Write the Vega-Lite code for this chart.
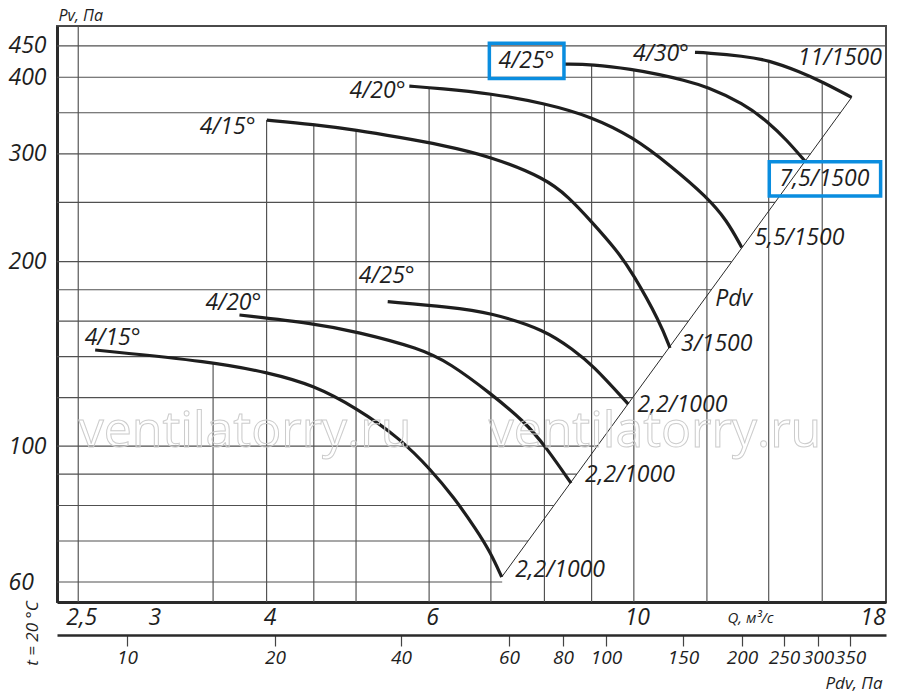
{
  "$schema": "https://vega.github.io/schema/vega-lite/v6.json",
  "description": "Fan performance curves, Pv vs Q, log-log",
  "width": 829,
  "height": 576,
  "autosize": {"type": "none"},
  "padding": {"left": 57, "top": 26, "right": 14, "bottom": 95},
  "background": "white",
  "config": {
    "font": "Open Sans",
    "view": {"stroke": "#4a4a4a", "strokeWidth": 2},
    "axis": {
      "grid": false,
      "labelFont": "Open Sans",
      "labelFontStyle": "italic",
      "labelFontSize": 23,
      "labelColor": "#1e1e1e",
      "titleFont": "Open Sans",
      "titleFontStyle": "italic",
      "titleFontWeight": "normal",
      "titleColor": "#1e1e1e",
      "labelFlush": false,
      "labelOverlap": false
    }
  },
  "datasets": {
    "hgrid": [
      {"pv": 60, "q0": 2.371, "qend": 7.2},
      {"pv": 70, "q0": 2.371, "qend": 7.68},
      {"pv": 80, "q0": 2.371, "qend": 8.19},
      {"pv": 90, "q0": 2.371, "qend": 8.67},
      {"pv": 100, "q0": 2.371, "qend": 9.13},
      {"pv": 120, "q0": 2.371, "qend": 9.97},
      {"pv": 140, "q0": 2.371, "qend": 10.74},
      {"pv": 160, "q0": 2.371, "qend": 11.46},
      {"pv": 180, "q0": 2.371, "qend": 12.13},
      {"pv": 200, "q0": 2.371, "qend": 12.76},
      {"pv": 250, "q0": 2.371, "qend": 14.22},
      {"pv": 300, "q0": 2.371, "qend": 15.54},
      {"pv": 350, "q0": 2.371, "qend": 16.75},
      {"pv": 400, "q0": 2.371, "qend": 18.76},
      {"pv": 450, "q0": 2.371, "qend": 18.76}
    ],
    "vgrid": [
      {"q": 2.5, "top": 485, "bottom": 55.66},
      {"q": 3.5, "top": 137.2, "bottom": 55.66},
      {"q": 4, "top": 340.5, "bottom": 55.66},
      {"q": 4.5, "top": 334.9, "bottom": 55.66},
      {"q": 5, "top": 328, "bottom": 55.66},
      {"q": 6, "top": 384.5, "bottom": 55.66},
      {"q": 7, "top": 376.4, "bottom": 55.66},
      {"q": 8, "top": 362.9, "bottom": 55.66},
      {"q": 9, "top": 419.8, "bottom": 55.66},
      {"q": 10, "top": 411.8, "bottom": 55.66},
      {"q": 12, "top": 438.5, "bottom": 55.66},
      {"q": 14, "top": 426.7, "bottom": 55.66},
      {"q": 16, "top": 393.2, "bottom": 55.66}
    ],
    "diag": [
      {"q": 7.192, "pv": 61.14},
      {"q": 17.219, "pv": 370.9}
    ],
    "curves": [
      {"c": "A", "q": 4.002, "pv": 340.5},
      {"c": "A", "q": 4.492, "pv": 335.0},
      {"c": "A", "q": 5.009, "pv": 327.9},
      {"c": "A", "q": 5.58, "pv": 319.0},
      {"c": "A", "q": 6.166, "pv": 310.5},
      {"c": "A", "q": 6.985, "pv": 297.4},
      {"c": "A", "q": 8.025, "pv": 273.5},
      {"c": "A", "q": 8.49, "pv": 255.3},
      {"c": "A", "q": 9.002, "pv": 232.4},
      {"c": "A", "q": 9.58, "pv": 208.9},
      {"c": "A", "q": 9.971, "pv": 191.6},
      {"c": "A", "q": 10.674, "pv": 159.4},
      {"c": "A", "q": 10.943, "pv": 144.6},
      {"c": "B", "q": 5.711, "pv": 386.9},
      {"c": "B", "q": 6.166, "pv": 383.6},
      {"c": "B", "q": 6.985, "pv": 376.5},
      {"c": "B", "q": 8.025, "pv": 362.6},
      {"c": "B", "q": 9.002, "pv": 344.8},
      {"c": "B", "q": 9.971, "pv": 319.8},
      {"c": "B", "q": 10.943, "pv": 287.5},
      {"c": "B", "q": 11.993, "pv": 255.3},
      {"c": "B", "q": 12.607, "pv": 233.9},
      {"c": "B", "q": 13.09, "pv": 211},
      {"c": "C", "q": 8.421, "pv": 420.3},
      {"c": "C", "q": 9.002, "pv": 419.8},
      {"c": "C", "q": 9.971, "pv": 412.0},
      {"c": "C", "q": 10.674, "pv": 404.0},
      {"c": "C", "q": 11.313, "pv": 395.8},
      {"c": "C", "q": 11.993, "pv": 386.3},
      {"c": "C", "q": 13.14, "pv": 362.6},
      {"c": "C", "q": 13.985, "pv": 338.0},
      {"c": "C", "q": 14.641, "pv": 316.0},
      {"c": "C", "q": 15.325, "pv": 292},
      {"c": "D", "q": 11.648, "pv": 439.2},
      {"c": "D", "q": 11.993, "pv": 438.5},
      {"c": "D", "q": 13.14, "pv": 433.1},
      {"c": "D", "q": 13.985, "pv": 426.7},
      {"c": "D", "q": 15.135, "pv": 408.3},
      {"c": "D", "q": 16.001, "pv": 393.2},
      {"c": "D", "q": 17.219, "pv": 370.9},
      {"c": "E", "q": 2.608, "pv": 143.5},
      {"c": "E", "q": 3.494, "pv": 137.3},
      {"c": "E", "q": 4.018, "pv": 131.8},
      {"c": "E", "q": 4.495, "pv": 125.8},
      {"c": "E", "q": 5.009, "pv": 115.3},
      {"c": "E", "q": 5.58, "pv": 102.96},
      {"c": "E", "q": 6.03, "pv": 91.4},
      {"c": "E", "q": 6.374, "pv": 82.67},
      {"c": "E", "q": 6.756, "pv": 72.95},
      {"c": "E", "q": 6.985, "pv": 67.23},
      {"c": "E", "q": 7.192, "pv": 61.14},
      {"c": "F", "q": 3.738, "pv": 163.7},
      {"c": "F", "q": 4.495, "pv": 158.6},
      {"c": "F", "q": 5.009, "pv": 153.7},
      {"c": "F", "q": 5.866, "pv": 144.4},
      {"c": "F", "q": 6.322, "pv": 136.5},
      {"c": "F", "q": 6.985, "pv": 122.1},
      {"c": "F", "q": 7.622, "pv": 109.5},
      {"c": "F", "q": 8.025, "pv": 99.8},
      {"c": "F", "q": 8.55, "pv": 87},
      {"c": "G", "q": 5.411, "pv": 172.1},
      {"c": "G", "q": 6.322, "pv": 168.6},
      {"c": "G", "q": 6.985, "pv": 165.2},
      {"c": "G", "q": 8.025, "pv": 154.7},
      {"c": "G", "q": 8.596, "pv": 143.5},
      {"c": "G", "q": 9.002, "pv": 136.1},
      {"c": "G", "q": 9.862, "pv": 117.1}
    ],
    "boxes": [
      {"q1": 6.973, "q2": 8.4, "p1": 454.4, "p2": 398.3},
      {"q1": 14.02, "q2": 18.51, "p1": 291.2, "p2": 255.9}
    ],
    "labels": [
      {"t": "4/15°", "q": 3.629, "pv": 332.0},
      {"t": "4/20°", "q": 5.276, "pv": 379.8},
      {"t": "4/25°", "q": 7.65, "pv": 425.1},
      {"t": "4/30°", "q": 10.7, "pv": 436.4},
      {"t": "11/1500", "q": 16.72, "pv": 430.7},
      {"t": "7,5/1500", "q": 16.09, "pv": 273.3},
      {"t": "5,5/1500", "q": 15.116, "pv": 218.3},
      {"t": "3/1500", "q": 12.296, "pv": 146.7},
      {"t": "Pdv", "q": 12.829, "pv": 173.6},
      {"t": "4/25°", "q": 5.398, "pv": 189.7},
      {"t": "4/20°", "q": 3.682, "pv": 171.0},
      {"t": "4/15°", "q": 2.724, "pv": 150.4},
      {"t": "2,2/1000", "q": 11.29, "pv": 116.7},
      {"t": "2,2/1000", "q": 9.904, "pv": 89.7},
      {"t": "2,2/1000", "q": 8.318, "pv": 62.8}
    ],
    "watermark": [
      {"t": "ventilatorry.ru", "q": 3.791, "pv": 99.8},
      {"t": "ventilatorry.ru", "q": 10.541, "pv": 99.8}
    ],
    "pdvTicks": [
      {"pdv": 10}, {"pdv": 20}, {"pdv": 40}, {"pdv": 60}, {"pdv": 80},
      {"pdv": 100}, {"pdv": 150}, {"pdv": 200}, {"pdv": 250}, {"pdv": 300}, {"pdv": 350}
    ]
  },
  "layer": [
    {
      "data": {"name": "hgrid"},
      "mark": {"type": "rule", "color": "#505050", "strokeWidth": 1.15},
      "encoding": {
        "y": {
          "field": "pv",
          "type": "quantitative",
          "scale": {"type": "log", "domain": [55.66, 485], "nice": false},
          "axis": {
            "orient": "left",
            "labels": false,
            "ticks": false,
            "domain": false,
            "title": "t = 20 °C",
            "titleX": -25,
            "titleY": 607,
            "titleAngle": 270,
            "titleAlign": "center",
            "titleBaseline": "middle",
            "titleFontSize": 17
          }
        },
        "x": {
          "field": "q0",
          "type": "quantitative",
          "scale": {"type": "log", "domain": [2.371, 18.76], "nice": false},
          "axis": null
        },
        "x2": {"field": "qend"}
      }
    },
    {
      "data": {"name": "vgrid"},
      "mark": {"type": "rule", "color": "#505050", "strokeWidth": 1.15},
      "encoding": {
        "x": {
          "field": "q",
          "type": "quantitative",
          "scale": {"type": "log", "domain": [2.371, 18.76], "nice": false},
          "axis": {
            "values": [2.5, 3, 4, 6, 10, 18],
            "labelExpr": "replace(toString(datum.value), '.', ',')",
            "ticks": false,
            "tickSize": 0,
            "labelPadding": 15,
            "labelBaseline": "middle",
            "labelOffset": 3,
            "domainWidth": 3,
            "domainColor": "#2a2a2a",
            "title": "Q, м³/с",
            "titleX": 693,
            "titleY": 15,
            "titleAlign": "center",
            "titleBaseline": "middle",
            "titleFontSize": 15
          }
        },
        "y": {"field": "top", "type": "quantitative", "scale": {"type": "log", "domain": [55.66, 485], "nice": false}, "axis": null},
        "y2": {"field": "bottom"}
      }
    },
    {
      "data": {"name": "diag"},
      "mark": {"type": "line", "color": "#2a2a2a", "strokeWidth": 1},
      "encoding": {
        "x": {"field": "q", "type": "quantitative", "scale": {"type": "log", "domain": [2.371, 18.76], "nice": false}, "axis": null},
        "y": {"field": "pv", "type": "quantitative", "scale": {"type": "log", "domain": [55.66, 485], "nice": false}, "axis": null}
      }
    },
    {
      "data": {"name": "curves"},
      "mark": {"type": "line", "color": "#1e1e1e", "strokeWidth": 3.2, "interpolate": "basis"},
      "encoding": {
        "x": {"field": "q", "type": "quantitative", "scale": {"type": "log", "domain": [2.371, 18.76], "nice": false}, "axis": null},
        "y": {
          "field": "pv",
          "type": "quantitative",
          "scale": {"type": "log", "domain": [55.66, 485], "nice": false},
          "axis": {
            "orient": "left",
            "values": [60, 100, 200, 300, 400, 450],
            "ticks": false,
            "tickSize": 0,
            "labelAlign": "left",
            "labelPadding": 49,
            "labelBaseline": "middle",
            "domainWidth": 3,
            "domainColor": "#2a2a2a",
            "title": "Pv, Па",
            "titleX": 1,
            "titleY": -11,
            "titleAngle": 0,
            "titleAlign": "left",
            "titleBaseline": "middle",
            "titleFontSize": 16
          }
        },
        "detail": {"field": "c", "type": "nominal"}
      }
    },
    {
      "data": {"name": "boxes"},
      "mark": {"type": "rect", "filled": false, "color": "#0a8ddf", "strokeWidth": 3.5},
      "encoding": {
        "x": {"field": "q1", "type": "quantitative", "scale": {"type": "log", "domain": [2.371, 18.76], "nice": false}, "axis": null},
        "x2": {"field": "q2"},
        "y": {"field": "p1", "type": "quantitative", "scale": {"type": "log", "domain": [55.66, 485], "nice": false}, "axis": null},
        "y2": {"field": "p2"}
      }
    },
    {
      "data": {"name": "labels"},
      "mark": {"type": "text", "font": "Open Sans", "fontSize": 23, "fontStyle": "italic", "color": "#1e1e1e", "align": "center", "baseline": "middle"},
      "encoding": {
        "x": {"field": "q", "type": "quantitative", "scale": {"type": "log", "domain": [2.371, 18.76], "nice": false}, "axis": null},
        "y": {"field": "pv", "type": "quantitative", "scale": {"type": "log", "domain": [55.66, 485], "nice": false}, "axis": null},
        "text": {"field": "t"}
      }
    },
    {
      "data": {"name": "watermark"},
      "mark": {"type": "text", "font": "Open Sans", "fontSize": 50, "fill": "transparent", "stroke": "#cccccc", "strokeWidth": 1, "align": "center", "baseline": "alphabetic"},
      "encoding": {
        "x": {"field": "q", "type": "quantitative", "scale": {"type": "log", "domain": [2.371, 18.76], "nice": false}, "axis": null},
        "y": {"field": "pv", "type": "quantitative", "scale": {"type": "log", "domain": [55.66, 485], "nice": false}, "axis": null},
        "text": {"field": "t"}
      }
    },
    {
      "data": {"name": "pdvTicks"},
      "mark": {"type": "point", "opacity": 0},
      "encoding": {
        "x": {
          "field": "pdv",
          "type": "quantitative",
          "scale": {
            "type": "linear",
            "domain": [6.9, 10, 20, 40, 60, 80, 100, 150, 200, 250, 300, 350, 408.5],
            "range": [0, 70, 218, 344, 452, 506, 549, 626, 685, 727, 761, 793, 829],
            "nice": false,
            "zero": false
          },
          "axis": {
            "orient": "bottom",
            "offset": 33,
            "values": [10, 20, 40, 60, 80, 100, 150, 200, 250, 300, 350],
            "tickSize": 11,
            "tickColor": "#444",
            "tickWidth": 1.2,
            "labelPadding": 11,
            "labelBaseline": "middle",
            "labelFontSize": 19,
            "domainWidth": 2.5,
            "domainColor": "#2a2a2a",
            "title": "Pdv, Па",
            "titleX": 825,
            "titleY": 48,
            "titleAlign": "right",
            "titleBaseline": "middle",
            "titleFontSize": 17
          }
        }
      }
    }
  ],
  "resolve": {"scale": {"x": "independent"}, "axis": {"y": "independent"}}
}
